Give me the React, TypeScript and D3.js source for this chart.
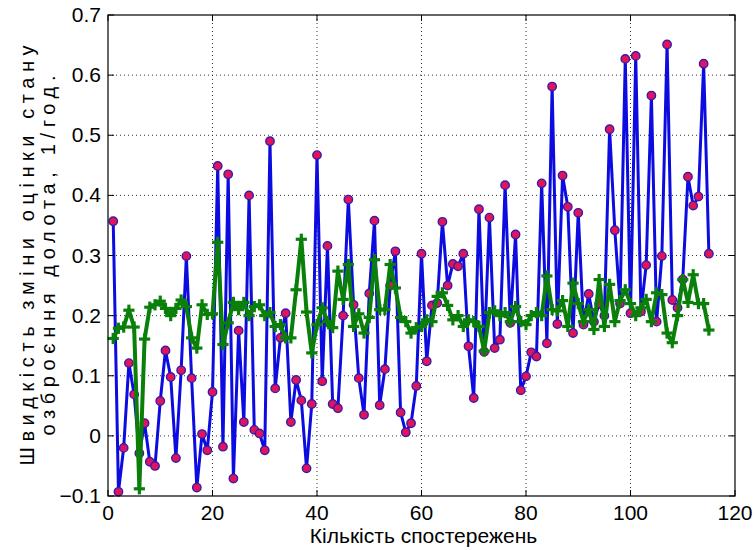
import React from "react";
import * as d3 from "d3";

// Rate of change of the bit wear-state estimate, per observation
const rateObserved: number[] = [
  0.357, -0.093, -0.02, 0.121, 0.069, -0.029, 0.021, -0.043, -0.05, 0.058,
  0.142, 0.098, -0.037, 0.109, 0.299, 0.096, -0.086, 0.003, -0.024, 0.073,
  0.449, -0.018, 0.435, -0.071, 0.175, 0.023, 0.4, 0.01, 0.004, -0.024,
  0.49, 0.079, 0.163, 0.204, 0.023, 0.093, 0.059, -0.054, 0.053, 0.467,
  0.091, 0.316, 0.053, 0.046, 0.2, 0.393, 0.218, 0.096, 0.035, 0.237,
  0.358, 0.051, 0.111, 0.25, 0.307, 0.039, 0.006, 0.021, 0.083, 0.303,
  0.124, 0.217, 0.221, 0.356, 0.25, 0.286, 0.282, 0.303, 0.149, 0.063,
  0.377, 0.14, 0.363, 0.146, 0.16, 0.417, 0.188, 0.335, 0.076, 0.099,
  0.139, 0.132, 0.42, 0.154, 0.581, 0.186, 0.433, 0.381, 0.171, 0.371,
  0.185, 0.236, 0.19, 0.22, 0.2, 0.51, 0.342, 0.22, 0.627, 0.204,
  0.632, 0.207, 0.284, 0.566, 0.19, 0.299, 0.651, 0.226, 0.213, 0.26,
  0.431, 0.383, 0.398, 0.619, 0.303,
];

// Smoothed estimate
const rateSmoothed: number[] = [
  0.162, 0.179, 0.181, 0.209, 0.181, -0.088, 0.161, 0.214, 0.218, 0.224,
  0.212, 0.2, 0.212, 0.226, 0.215, 0.163, 0.146, 0.218, 0.202, 0.203,
  0.322, 0.152, 0.188, 0.222, 0.21, 0.222, 0.2, 0.215, 0.218, 0.2,
  0.205, 0.182, 0.185, 0.163, 0.163, 0.243, 0.327, 0.206, 0.138, 0.185,
  0.213, 0.19, 0.18, 0.274, 0.227, 0.285, 0.182, 0.203, 0.171, 0.197,
  0.293, 0.21, 0.21, 0.285, 0.246, 0.197, 0.19, 0.171, 0.18, 0.182,
  0.193, 0.19, 0.232, 0.238, 0.217, 0.193, 0.2, 0.182, 0.193, 0.19,
  0.182, 0.141, 0.205, 0.208, 0.2, 0.205, 0.19, 0.215, 0.19, 0.185,
  0.2, 0.205, 0.2, 0.266, 0.21, 0.208, 0.225, 0.182, 0.254, 0.22,
  0.19, 0.21, 0.177, 0.26, 0.182, 0.252, 0.19, 0.225, 0.243, 0.22,
  0.2, 0.213, 0.227, 0.19, 0.238, 0.235, 0.171, 0.155, 0.2, 0.26,
  0.222, 0.268, 0.22, 0.22, 0.176,
];

const xTicks: number[] = [0, 20, 40, 60, 80, 100, 120];
const yTicks: number[] = [-0.1, 0, 0.1, 0.2, 0.3, 0.4, 0.5, 0.6, 0.7];

const xLabel = "Кількість спостережень";
const yLabelLines = ["Швидкість зміни оцінки стану", "озброєння долота, 1/год."];
// rotated title lines are set with wide letter spacing
const yLabelLengths = [420, 360];

const W = 755;
const H = 550;
const M = { left: 108, right: 20, top: 15, bottom: 54 };

const BLUE = "#0c0ce0";
const MARKER_FILL = "#e0145a";
const GREEN = "#0a800a";
const FONT = "'Liberation Sans', Arial, sans-serif";

export default function App() {
  const x = d3.scaleLinear().domain([0, 120]).range([M.left, W - M.right]);
  const y = d3.scaleLinear().domain([-0.1, 0.7]).range([H - M.bottom, M.top]);

  const line = d3
    .line<number>()
    .x((_, i) => x(i + 1))
    .y((d) => y(d));

  const [x0, x1] = x.range();
  const [y0, y1] = y.range();
  const tick = 6;
  const fmt = (v: number) => (Math.abs(v) < 1e-9 ? "0" : d3.format("")(+v.toFixed(1)));

  return (
    <div style={{ position: "absolute", left: 0, top: 0 }}>
      <svg width={W} height={H} style={{ display: "block", background: "#fff" }}>
        <rect x={0} y={0} width={W} height={H} fill="#fff" />
        {/* grid */}
        <g stroke="#000" strokeWidth={1} strokeDasharray="1,3" opacity={0.8}>
          {xTicks.slice(1, -1).map((t) => (
            <line key={"gx" + t} x1={x(t)} x2={x(t)} y1={y0} y2={y1} />
          ))}
          {yTicks.slice(1, -1).map((t) => (
            <line key={"gy" + t} x1={x0} x2={x1} y1={y(t)} y2={y(t)} />
          ))}
        </g>

        {/* observed series */}
        <path d={line(rateObserved) ?? ""} fill="none" stroke={BLUE} strokeWidth={3} strokeLinejoin="round" />
        <g>
          {rateObserved.map((v, i) => (
            <circle key={"o" + i} cx={x(i + 1)} cy={y(v)} r={4.2} fill={MARKER_FILL} stroke="#3a1aa8" strokeWidth={1.4} />
          ))}
        </g>

        {/* smoothed series */}
        <path d={line(rateSmoothed) ?? ""} fill="none" stroke={GREEN} strokeWidth={4} strokeLinejoin="round" />
        <g stroke={GREEN} strokeWidth={3.2} strokeLinecap="square">
          {rateSmoothed.map((v, i) => {
            const cx = x(i + 1);
            const cy = y(v);
            const s = 4;
            return (
              <g key={"s" + i}>
                <line x1={cx - s} x2={cx + s} y1={cy} y2={cy} />
                <line x1={cx} x2={cx} y1={cy - s} y2={cy + s} />
              </g>
            );
          })}
        </g>

        {/* axes box and ticks */}
        <rect x={x0} y={y1} width={x1 - x0} height={y0 - y1} fill="none" stroke="#000" strokeWidth={1.2} />
        <g stroke="#000" strokeWidth={1}>
          {xTicks.map((t) => (
            <g key={"tx" + t}>
              <line x1={x(t)} x2={x(t)} y1={y0} y2={y0 - tick} />
              <line x1={x(t)} x2={x(t)} y1={y1} y2={y1 + tick} />
            </g>
          ))}
          {yTicks.map((t) => (
            <g key={"ty" + t}>
              <line x1={x0} x2={x0 + tick} y1={y(t)} y2={y(t)} />
              <line x1={x1} x2={x1 - tick} y1={y(t)} y2={y(t)} />
            </g>
          ))}
        </g>

        {/* tick labels */}
        <g fontFamily={FONT} fontSize={21} fill="#000">
          {xTicks.map((t) => (
            <text key={"lx" + t} x={x(t)} y={y0 + 24} textAnchor="middle">
              {fmt(t)}
            </text>
          ))}
          {yTicks.map((t) => (
            <text key={"ly" + t} x={x0 - 7} y={y(t) + 7} textAnchor="end">
              {fmt(t)}
            </text>
          ))}
        </g>

        {/* axis titles */}
        <text x={(x0 + x1) / 2 + 2} y={H - 7} textAnchor="middle" fontFamily={FONT} fontSize={21} fill="#000">
          {xLabel}
        </text>
        {yLabelLines.map((s, i) => (
          <text
            key={"yl" + i}
            transform={`translate(${34 + i * 21},${(y0 + y1) / 2}) rotate(-90)`}
            textAnchor="middle"
            fontFamily={FONT}
            fontSize={20}
            textLength={yLabelLengths[i]}
            lengthAdjust="spacing"
            fill="#000"
          >
            {s}
          </text>
        ))}
      </svg>
    </div>
  );
}
